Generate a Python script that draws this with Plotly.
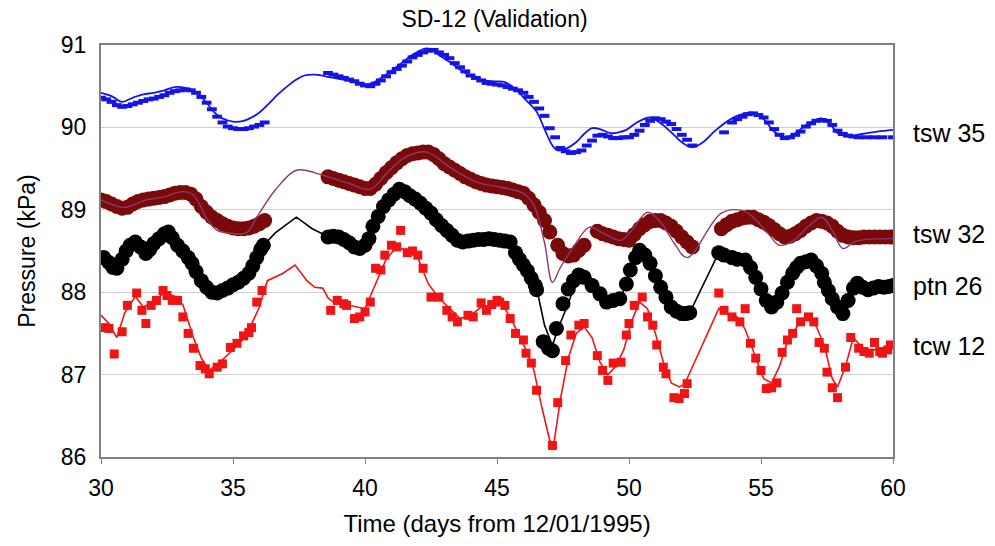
import plotly.graph_objects as go

# ---------------- tsw 35 (blue) ----------------
tsw35_obs_x = [30.0, 30.2, 30.4, 30.6, 30.8, 31.0, 31.2, 31.4, 31.6, 31.8, 32.0, 32.2, 32.4, 32.6, 32.8, 33.0, 33.2, 33.4, 33.6, 33.8, 34.0, 34.2, 34.4, 34.6, 34.8, 35.0, 35.2, 35.4, 35.6, 35.8, 36.0, 36.2,
               None,
               38.6, 38.8, 39.0, 39.2, 39.4, 39.6, 39.8, 40.0, 40.2, 40.4, 40.6, 40.8, 41.0, 41.2, 41.4, 41.6, 41.8, 42.0, 42.2, 42.4, 42.6, 42.8, 43.0, 43.2, 43.4, 43.6, 43.8, 44.0, 44.2, 44.4, 44.6, 44.8, 45.0, 45.2, 45.4, 45.6, 45.8, 46.0, 46.2, 46.4, 46.6, 46.8, 47.0, 47.2, 47.4, 47.6, 47.8, 48.0, 48.2, 48.4, 48.6, 48.8, 49.0, 49.2, 49.4, 49.6, 49.8, 50.0, 50.2, 50.4, 50.6, 50.8, 51.0, 51.2, 51.4, 51.6, 51.8, 52.0, 52.2, 52.4,
               None,
               53.6, 53.9, 54.1, 54.3, 54.5, 54.7, 54.9, 55.1, 55.3, 55.5, 55.7, 55.9, 56.1, 56.3, 56.5, 56.7, 56.9, 57.1, 57.3, 57.5, 57.7, 57.9, 58.1, 58.3, 58.5, 58.7, 59.0, 59.3, 59.6, 60.0]
tsw35_obs_y = [90.36, 90.34, 90.31, 90.27, 90.25, 90.26, 90.28, 90.30, 90.32, 90.34, 90.35, 90.37, 90.39, 90.42, 90.44, 90.45, 90.46, 90.45, 90.42, 90.37, 90.30, 90.22, 90.13, 90.06, 90.01, 89.99, 89.98, 89.98, 89.99, 90.01, 90.03, 90.06,
               None,
               90.66, 90.64, 90.62, 90.60, 90.58, 90.56, 90.53, 90.51, 90.50, 90.53, 90.57, 90.62, 90.67, 90.71, 90.75, 90.80, 90.85, 90.88, 90.91, 90.93, 90.94, 90.91, 90.88, 90.84, 90.78, 90.73, 90.68, 90.63, 90.60, 90.57, 90.54, 90.53, 90.52, 90.51, 90.49, 90.47, 90.45, 90.42, 90.37, 90.31, 90.23, 90.14, 89.99, 89.88, 89.75, 89.71, 89.69, 89.70, 89.72, 89.78, 89.84, 89.90, 89.91, 89.89, 89.87, 89.87, 89.88, 89.88, 89.91, 89.96, 90.03, 90.08, 90.11, 90.10, 90.07, 90.04, 89.98, 89.91, 89.85, 89.78,
               None,
               89.94, 90.06, 90.10, 90.13, 90.16, 90.17, 90.15, 90.12, 90.06, 89.98, 89.91, 89.87, 89.88, 89.91, 89.95, 90.01, 90.05, 90.08, 90.09, 90.08, 90.03, 89.96, 89.92, 89.90, 89.89, 89.88, 89.88, 89.88, 89.88, 89.88]
tsw35_sim_x = [30.0, 30.4, 30.8, 31.2, 31.6, 32.0, 32.4, 32.8, 33.2, 33.6, 34.0, 34.3, 34.6, 35.0, 35.4, 35.7, 36.0, 36.3, 36.7, 37.1, 37.4, 37.7, 38.1, 38.5, 39.0, 39.5, 40.0, 40.3, 40.8, 41.3, 41.8, 42.35, 42.8, 43.3, 43.8, 44.3, 44.8, 45.3, 45.75, 46.1, 46.5, 46.8, 47.1, 47.3, 47.6, 48.0, 48.3, 48.6, 48.9, 49.3, 49.6, 49.9, 50.3, 50.8, 51.2, 51.6, 52.0, 52.4, 52.8, 53.3, 53.9, 54.3, 54.7, 55.1, 55.5, 55.9, 56.3, 56.8, 57.3, 57.6, 57.9, 58.3, 58.8, 59.4, 60.0]
tsw35_sim_y = [90.42, 90.38, 90.31, 90.36, 90.40, 90.42, 90.45, 90.49, 90.48, 90.43, 90.30, 90.18, 90.11, 90.07, 90.08, 90.12, 90.18, 90.27, 90.40, 90.51, 90.58, 90.63, 90.64, 90.62, 90.59, 90.56, 90.52, 90.54, 90.64, 90.76, 90.88, 90.96, 90.88, 90.77, 90.66, 90.59, 90.56, 90.55, 90.45, 90.33, 90.19, 89.98, 89.78, 89.72, 89.74, 89.82, 89.92, 89.99, 89.98, 89.93, 89.94, 89.97, 90.06, 90.12, 90.05, 89.94, 89.82, 89.76, 89.82, 89.97, 90.11, 90.16, 90.18, 90.10, 89.95, 89.88, 89.93, 90.05, 90.11, 90.05, 89.93, 89.89, 89.92, 89.95, 89.97]

# ---------------- tsw 32 (dark red / purple) ----------------
tsw32_obs_x = [30.0, 30.2, 30.4, 30.6, 30.8, 31.0, 31.2, 31.4, 31.6, 31.8, 32.0, 32.2, 32.4, 32.6, 32.8, 33.0, 33.2, 33.4, 33.6, 33.8, 34.0, 34.2, 34.4, 34.6, 34.8, 35.0, 35.2, 35.4, 35.6, 35.8, 36.0, 36.2,
               None,
               38.6, 38.8, 39.0, 39.2, 39.4, 39.6, 39.8, 40.0, 40.2, 40.4, 40.6, 40.8, 41.0, 41.2, 41.4, 41.6, 41.8, 42.0, 42.2, 42.4, 42.6, 42.8, 43.0, 43.2, 43.4, 43.6, 43.8, 44.0, 44.2, 44.4, 44.6, 44.8, 45.0, 45.2, 45.4, 45.6, 45.8, 46.0, 46.2, 46.4, 46.6, 46.8, 47.0, 47.3, 47.5, 47.7, 47.9, 48.1, 48.3,
               None,
               48.8, 49.0, 49.2, 49.4, 49.6, 49.8, 50.0, 50.2, 50.4, 50.6, 50.8, 51.0, 51.2, 51.4, 51.6, 51.8, 52.0, 52.2, 52.4,
               None,
               53.5, 53.7, 53.9, 54.1, 54.3, 54.5, 54.7, 54.9, 55.1, 55.3, 55.5, 55.7, 55.9, 56.1, 56.3, 56.5, 56.7, 56.9, 57.1, 57.3, 57.5, 57.7, 57.9, 58.1, 58.3, 58.5, 58.7, 58.9, 59.1, 59.3, 59.5, 59.7, 59.9, 60.0]
tsw32_obs_y = [89.12, 89.10, 89.07, 89.04, 89.02, 89.03, 89.07, 89.10, 89.12, 89.13, 89.14, 89.15, 89.16, 89.18, 89.20, 89.21, 89.21, 89.19, 89.13, 89.04, 88.97, 88.91, 88.87, 88.83, 88.80, 88.78, 88.77, 88.77, 88.78, 88.80, 88.83, 88.87,
               None,
               89.40, 89.38, 89.36, 89.34, 89.32, 89.30, 89.28, 89.26, 89.26, 89.31, 89.38, 89.45, 89.51, 89.57, 89.62, 89.66, 89.68, 89.69, 89.70, 89.70, 89.67, 89.62, 89.56, 89.52, 89.48, 89.44, 89.40, 89.37, 89.34, 89.32, 89.30, 89.29, 89.28, 89.27, 89.26, 89.24, 89.22, 89.20, 89.14, 89.06, 88.97, 88.87, 88.73, 88.57, 88.47, 88.44, 88.45, 88.51, 88.57,
               None,
               88.74, 88.71, 88.69, 88.67, 88.65, 88.64, 88.63, 88.70, 88.77, 88.82, 88.86, 88.87, 88.87, 88.84, 88.80, 88.74, 88.67, 88.61, 88.55,
               None,
               88.77, 88.82, 88.86, 88.88, 88.90, 88.91, 88.91, 88.88, 88.85, 88.81, 88.76, 88.71, 88.67, 88.68, 88.71, 88.75, 88.80, 88.84, 88.87, 88.86, 88.84, 88.80, 88.74, 88.69, 88.67, 88.66, 88.66, 88.67, 88.67, 88.67, 88.67, 88.67, 88.67, 88.67]
tsw32_sim_x = [30.0, 30.9, 31.7, 32.3, 33.1, 33.5, 34.05, 34.4, 34.8, 35.5, 35.9, 36.6, 37.4, 38.3, 38.6, 39.4, 40.2, 40.9, 41.6, 42.35, 43.2, 44.2, 45.2, 46.0, 46.4, 46.8, 47.1, 47.4, 47.9, 48.5, 49.0, 49.7, 50.1, 50.7, 51.2, 51.7, 52.2, 53.5, 54.3, 54.8, 55.3, 55.7, 56.2, 56.8, 57.3, 57.7, 58.1, 58.6, 60.0]
tsw32_sim_y = [89.12, 89.03, 89.12, 89.15, 89.22, 89.18, 88.87, 88.75, 88.72, 88.72, 88.91, 89.24, 89.48, 89.43, 89.40, 89.32, 89.25, 89.47, 89.65, 89.70, 89.52, 89.34, 89.27, 89.20, 89.05, 88.60, 88.12, 88.30, 88.55, 88.79, 88.72, 88.63, 88.75, 88.97, 88.85, 88.60, 88.42, 88.96, 88.99, 88.88, 88.70, 88.57, 88.62, 88.80, 88.91, 88.75, 88.53, 88.62, 88.65]

# ---------------- ptn 26 (black) ----------------
ptn26_obs_x = [30.1, 30.3, 30.45, 30.6, 30.8, 30.95, 31.1, 31.3, 31.5, 31.7, 31.85, 32.0, 32.2, 32.4, 32.55, 32.7, 32.9, 33.1, 33.3, 33.45, 33.6, 33.8, 34.0, 34.2, 34.4, 34.6, 34.8, 35.0, 35.2, 35.4, 35.6, 35.75, 35.9, 36.05, 36.15,
               None,
               38.6, 38.8, 39.0, 39.2, 39.4, 39.6, 39.8, 40.0, 40.15, 40.3, 40.5, 40.7, 40.9, 41.1, 41.3, 41.5, 41.7, 41.9, 42.1, 42.3, 42.5, 42.7, 42.9, 43.1, 43.3, 43.5, 43.7, 43.9, 44.1, 44.3, 44.5, 44.7, 44.9, 45.1, 45.3, 45.5, 45.7, 45.85, 46.0, 46.15, 46.3, 46.45, 46.5,
               46.75, 46.95, 47.1, 47.25, 47.5, 47.7, 47.9, 48.1, 48.3, 48.6, 48.9, 49.15, 49.4, 49.65, 49.9, 50.05, 50.25, 50.4, 50.6, 50.8, 51.0, 51.2, 51.4, 51.6, 51.8, 52.0, 52.15, 52.3,
               None,
               53.4, 53.6, 53.9, 54.1, 54.4, 54.6, 54.8, 55.0, 55.2, 55.4, 55.6, 55.8, 56.0, 56.2, 56.35, 56.5, 56.7, 56.9, 57.1, 57.3, 57.4, 57.55, 57.7, 57.9, 58.1, 58.3, 58.5, 58.65, 58.85, 59.05, 59.25, 59.45, 59.65, 59.85, 60.0]
ptn26_obs_y = [88.42, 88.36, 88.30, 88.29, 88.40, 88.50, 88.57, 88.61, 88.55, 88.47, 88.52, 88.59, 88.65, 88.71, 88.73, 88.66, 88.57, 88.50, 88.42, 88.35, 88.25, 88.14, 88.06, 88.00, 87.99, 88.02, 88.05, 88.09, 88.12, 88.17, 88.23, 88.32, 88.42, 88.52, 88.57,
               None,
               88.67, 88.68, 88.67, 88.64, 88.60, 88.55, 88.53, 88.57, 88.65, 88.80, 88.92, 89.04, 89.12, 89.19, 89.25, 89.22, 89.17, 89.13, 89.08, 89.02, 88.96, 88.88, 88.81, 88.75, 88.69, 88.63, 88.61, 88.62, 88.63, 88.64, 88.64, 88.65, 88.64, 88.63, 88.62, 88.61, 88.48, 88.40, 88.33, 88.26, 88.17, 88.08, 88.03,
               87.40, 87.32, 87.29, 87.56, 87.86, 88.04, 88.14, 88.21, 88.18, 88.08, 87.98, 87.88, 87.90, 87.92, 88.10, 88.27, 88.42, 88.51, 88.45, 88.35, 88.20, 88.06, 87.94, 87.82, 87.77, 87.74, 87.74, 87.75,
               None,
               88.48, 88.45, 88.42, 88.40, 88.39, 88.30, 88.18, 88.04, 87.90, 87.82, 87.88, 87.99, 88.12, 88.23, 88.30, 88.35, 88.37, 88.39, 88.32, 88.23, 88.12, 88.02, 87.92, 87.82, 87.74, 87.90, 88.05, 88.11, 88.06, 88.03, 88.05, 88.07, 88.06, 88.07, 88.08]
ptn26_sim_x = [30.0, 30.5, 30.9, 31.3, 31.7, 32.0, 32.5, 32.9, 33.4, 33.8, 34.2, 34.6, 35.1, 35.6, 35.9, 36.1, 36.6, 37.4, 38.0, 38.5, 39.1, 39.7, 40.1, 40.3, 40.8, 41.3, 42.0, 42.5, 43.0, 43.6, 44.2, 44.8, 45.5, 45.8, 46.1, 46.5, 46.8, 47.1, 47.3, 47.7, 47.9, 48.3, 48.6, 49.2, 49.7, 50.0, 50.4, 50.9, 51.2, 51.6, 52.0, 52.3, 53.4, 53.9, 54.4, 54.8, 55.2, 55.4, 55.8, 56.2, 56.5, 56.9, 57.3, 57.5, 57.9, 58.1, 58.3, 58.6, 59.1, 59.6, 60.0]
ptn26_sim_y = [88.42, 88.30, 88.45, 88.60, 88.50, 88.57, 88.72, 88.58, 88.38, 88.15, 88.00, 88.02, 88.10, 88.22, 88.42, 88.55, 88.72, 88.91, 88.77, 88.69, 88.67, 88.55, 88.62, 88.80, 89.08, 89.24, 89.10, 88.95, 88.77, 88.61, 88.62, 88.64, 88.60, 88.42, 88.28, 88.05, 87.60, 87.35, 87.55, 87.86, 88.05, 88.20, 88.08, 87.90, 87.92, 88.25, 88.48, 88.30, 88.06, 87.82, 87.75, 87.75, 88.48, 88.42, 88.38, 88.18, 87.90, 87.83, 87.98, 88.22, 88.34, 88.38, 88.22, 88.02, 87.83, 87.76, 87.88, 88.10, 88.03, 88.06, 88.08]

# ---------------- tcw 12 (red) ----------------
tcw12_obs_x = [30.15, 30.3, 30.5, 30.8, 31.0, 31.35, 31.55, 31.7, 31.9, 32.1, 32.35, 32.5, 32.7, 32.9, 33.1, 33.3, 33.5, 33.75, 33.95, 34.1, 34.4, 34.6, 34.9, 35.15, 35.4, 35.6, 35.7, 35.9, 36.1,
               None,
               38.7, 38.95, 39.2, 39.3, 39.6, 39.8, 40.0, 40.2, 40.4, 40.6, 40.75, 41.0, 41.2, 41.35, 41.6, 41.8, 42.0, 42.2, 42.5, 42.8, 43.1, 43.3, 43.5, 43.9, 44.1, 44.4, 44.6, 44.8, 45.0, 45.1, 45.3, 45.5, 45.7, 46.0, 46.1, 46.3, 46.5, 47.1, 47.3, 47.6, 47.8, 48.1, 48.3, 48.8, 49.0, 49.2, 49.4, 49.7, 49.9, 50.0, 50.2, 50.5, 50.7, 50.9, 51.05, 51.3, 51.4, 51.7, 51.9, 52.1, 52.2,
               None,
               53.4, 53.6, 53.9, 54.2, 54.4, 54.6, 54.8, 55.0, 55.2, 55.4, 55.6, 55.8, 56.0, 56.2, 56.35, 56.5, 56.8, 57.0, 57.2, 57.4, 57.5, 57.7, 57.9, 58.2, 58.4, 58.7, 58.9, 59.1, 59.3, 59.5, 59.6, 59.8, 59.9]
tcw12_obs_y = [87.57, 87.56, 87.25, 87.52, 87.84, 87.99, 87.78, 87.62, 87.84, 87.90, 88.02, 87.96, 87.90, 87.90, 87.70, 87.50, 87.32, 87.11, 87.07, 87.01, 87.09, 87.13, 87.33, 87.38, 87.47, 87.51, 87.57, 87.88, 88.02,
               None,
               87.78, 87.90, 87.86, 87.84, 87.68, 87.70, 87.76, 87.88, 88.29, 88.27, 88.45, 88.57, 88.55, 88.75, 88.48, 88.50, 88.45, 88.29, 87.94, 87.94, 87.78, 87.70, 87.64, 87.72, 87.70, 87.87, 87.78, 87.85, 87.90, 87.88, 87.84, 87.68, 87.50, 87.42, 87.26, 87.14, 86.81, 86.14, 86.66, 87.17, 87.48, 87.60, 87.62, 87.23, 87.05, 86.93, 87.14, 87.15, 87.48, 87.62, 87.84, 87.94, 87.70, 87.60, 87.36, 87.09, 87.01, 86.72, 86.71, 86.77, 86.89,
               None,
               87.99, 87.78, 87.70, 87.64, 87.80, 87.38, 87.20, 87.05, 86.83, 86.84, 86.90, 87.27, 87.42, 87.50, 87.80, 87.64, 87.70, 87.64, 87.39, 87.32, 87.03, 86.84, 86.72, 87.09, 87.45, 87.32, 87.28, 87.26, 87.39, 87.28, 87.26, 87.30, 87.36]
tcw12_sim_x = [30.0, 30.3, 30.6, 30.9, 31.3, 31.6, 32.0, 32.4, 32.8, 33.1, 33.5, 33.8, 34.1, 34.5, 35.0, 35.5, 36.0, 36.3, 36.9, 37.35, 37.8, 38.1, 38.4, 38.6, 38.8, 39.3, 39.7, 40.0, 40.4, 40.8, 41.2, 41.6, 42.0, 42.4, 42.8, 43.2, 43.6, 44.0, 44.4, 44.8, 45.2, 45.5, 45.8, 46.1, 46.4, 46.7, 47.0, 47.15, 47.4, 47.7, 48.0, 48.3, 48.6, 48.9, 49.2, 49.5, 49.8, 50.1, 50.4, 50.7, 51.0, 51.3, 51.6, 51.9, 52.1, 53.4, 53.7, 54.1, 54.4, 54.8, 55.1, 55.4, 55.7, 56.0, 56.4, 56.8, 57.1, 57.4, 57.7, 57.9, 58.2, 58.5, 58.9, 59.5, 60.0]
tcw12_sim_y = [87.72, 87.62, 87.45, 87.75, 87.95, 87.82, 87.88, 88.00, 87.95, 87.85, 87.45, 87.20, 87.05, 87.15, 87.30, 87.47, 87.82, 88.14, 88.23, 88.33, 88.14, 88.06, 88.05, 87.93, 87.88, 87.85, 87.82, 87.80, 88.10, 88.40, 88.55, 88.50, 88.42, 88.10, 87.93, 87.80, 87.68, 87.72, 87.82, 87.85, 87.85, 87.70, 87.50, 87.30, 87.05, 86.60, 86.20, 86.15, 86.70, 87.20, 87.50, 87.58, 87.45, 87.15, 87.00, 87.10, 87.30, 87.65, 87.88, 87.80, 87.50, 87.15, 86.90, 86.85, 86.88, 87.80, 87.75, 87.70, 87.55, 87.20, 86.95, 86.90, 87.10, 87.40, 87.60, 87.70, 87.58, 87.35, 86.95, 86.85, 87.10, 87.45, 87.30, 87.30, 87.32]

series_labels = ["tsw 35", "tsw 32", "ptn 26", "tcw 12"]
label_y = [89.93, 88.71, 88.07, 87.35]
y_ticks = [86, 87, 88, 89, 90, 91]
x_ticks = [30, 35, 40, 45, 50, 55, 60]

FONT = "Arial, 'Liberation Sans', sans-serif"
BLUE = "#1414E6"
MAROON = "#7A0A0A"
PURPLE = "#8A3A6A"
RED = "#F01414"

fig = go.Figure()

# tcw 12
fig.add_trace(go.Scatter(x=tcw12_obs_x, y=tcw12_obs_y, mode="markers",
                         marker=dict(symbol="square", size=9, color=RED, line=dict(width=0)),
                         showlegend=False))
fig.add_trace(go.Scatter(x=tcw12_sim_x, y=tcw12_sim_y, mode="lines",
                         line=dict(color=RED, width=1.6), showlegend=False))
# ptn 26
fig.add_trace(go.Scatter(x=ptn26_obs_x, y=ptn26_obs_y, mode="markers",
                         marker=dict(symbol="circle", size=15, color="#000000", line=dict(width=0)),
                         showlegend=False))
fig.add_trace(go.Scatter(x=ptn26_sim_x, y=ptn26_sim_y, mode="lines",
                         line=dict(color="#000000", width=1.6), showlegend=False))
# tsw 32
fig.add_trace(go.Scatter(x=tsw32_obs_x, y=tsw32_obs_y, mode="markers",
                         marker=dict(symbol="circle", size=15, color=MAROON, line=dict(width=0)),
                         showlegend=False))
fig.add_trace(go.Scatter(x=tsw32_sim_x, y=tsw32_sim_y, mode="lines", line_shape="spline",
                         line=dict(color=PURPLE, width=1.4), showlegend=False))
# tsw 35
fig.add_trace(go.Scatter(x=tsw35_obs_x, y=tsw35_obs_y, mode="markers",
                         marker=dict(symbol="line-ew", size=7, color=BLUE, line=dict(width=4, color=BLUE)),
                         showlegend=False))
fig.add_trace(go.Scatter(x=tsw35_sim_x, y=tsw35_sim_y, mode="lines", line_shape="spline",
                         line=dict(color=BLUE, width=1.8), showlegend=False))

for lab, yv in zip(series_labels, label_y):
    fig.add_annotation(x=1.0, xref="paper", xshift=18, y=yv, yref="y", text=lab,
                       showarrow=False, xanchor="left", yanchor="middle",
                       font=dict(family=FONT, size=25, color="#000000"))

fig.update_layout(
    width=995, height=546,
    margin=dict(l=101, r=102, t=45, b=89),
    paper_bgcolor="white", plot_bgcolor="white",
    title=dict(text="SD-12 (Validation)", x=0.497, xanchor="center", y=0.966, yanchor="middle",
               font=dict(family=FONT, size=23, color="#000000")),
    font=dict(family=FONT, color="#000000"),
)
fig.update_xaxes(range=[30, 60], tickvals=x_ticks, showgrid=False, zeroline=False,
                 showline=True, linecolor="#808080", linewidth=2, mirror=True,
                 ticks="outside", ticklen=5, tickcolor="#808080", ticklabelstandoff=4,
                 tickfont=dict(family=FONT, size=23),
                 title=dict(text="Time (days from 12/01/1995)", font=dict(family=FONT, size=24), standoff=16))
fig.update_yaxes(range=[86, 91], tickvals=y_ticks, showgrid=True, gridcolor="#D0D0D0", gridwidth=1,
                 zeroline=False, showline=True, linecolor="#808080", linewidth=2, mirror=True,
                 ticks="", ticklabelstandoff=8, tickfont=dict(family=FONT, size=23),
                 title=dict(text="Pressure (kPa)", font=dict(family=FONT, size=23), standoff=19))

fig.write_html("out.html")
